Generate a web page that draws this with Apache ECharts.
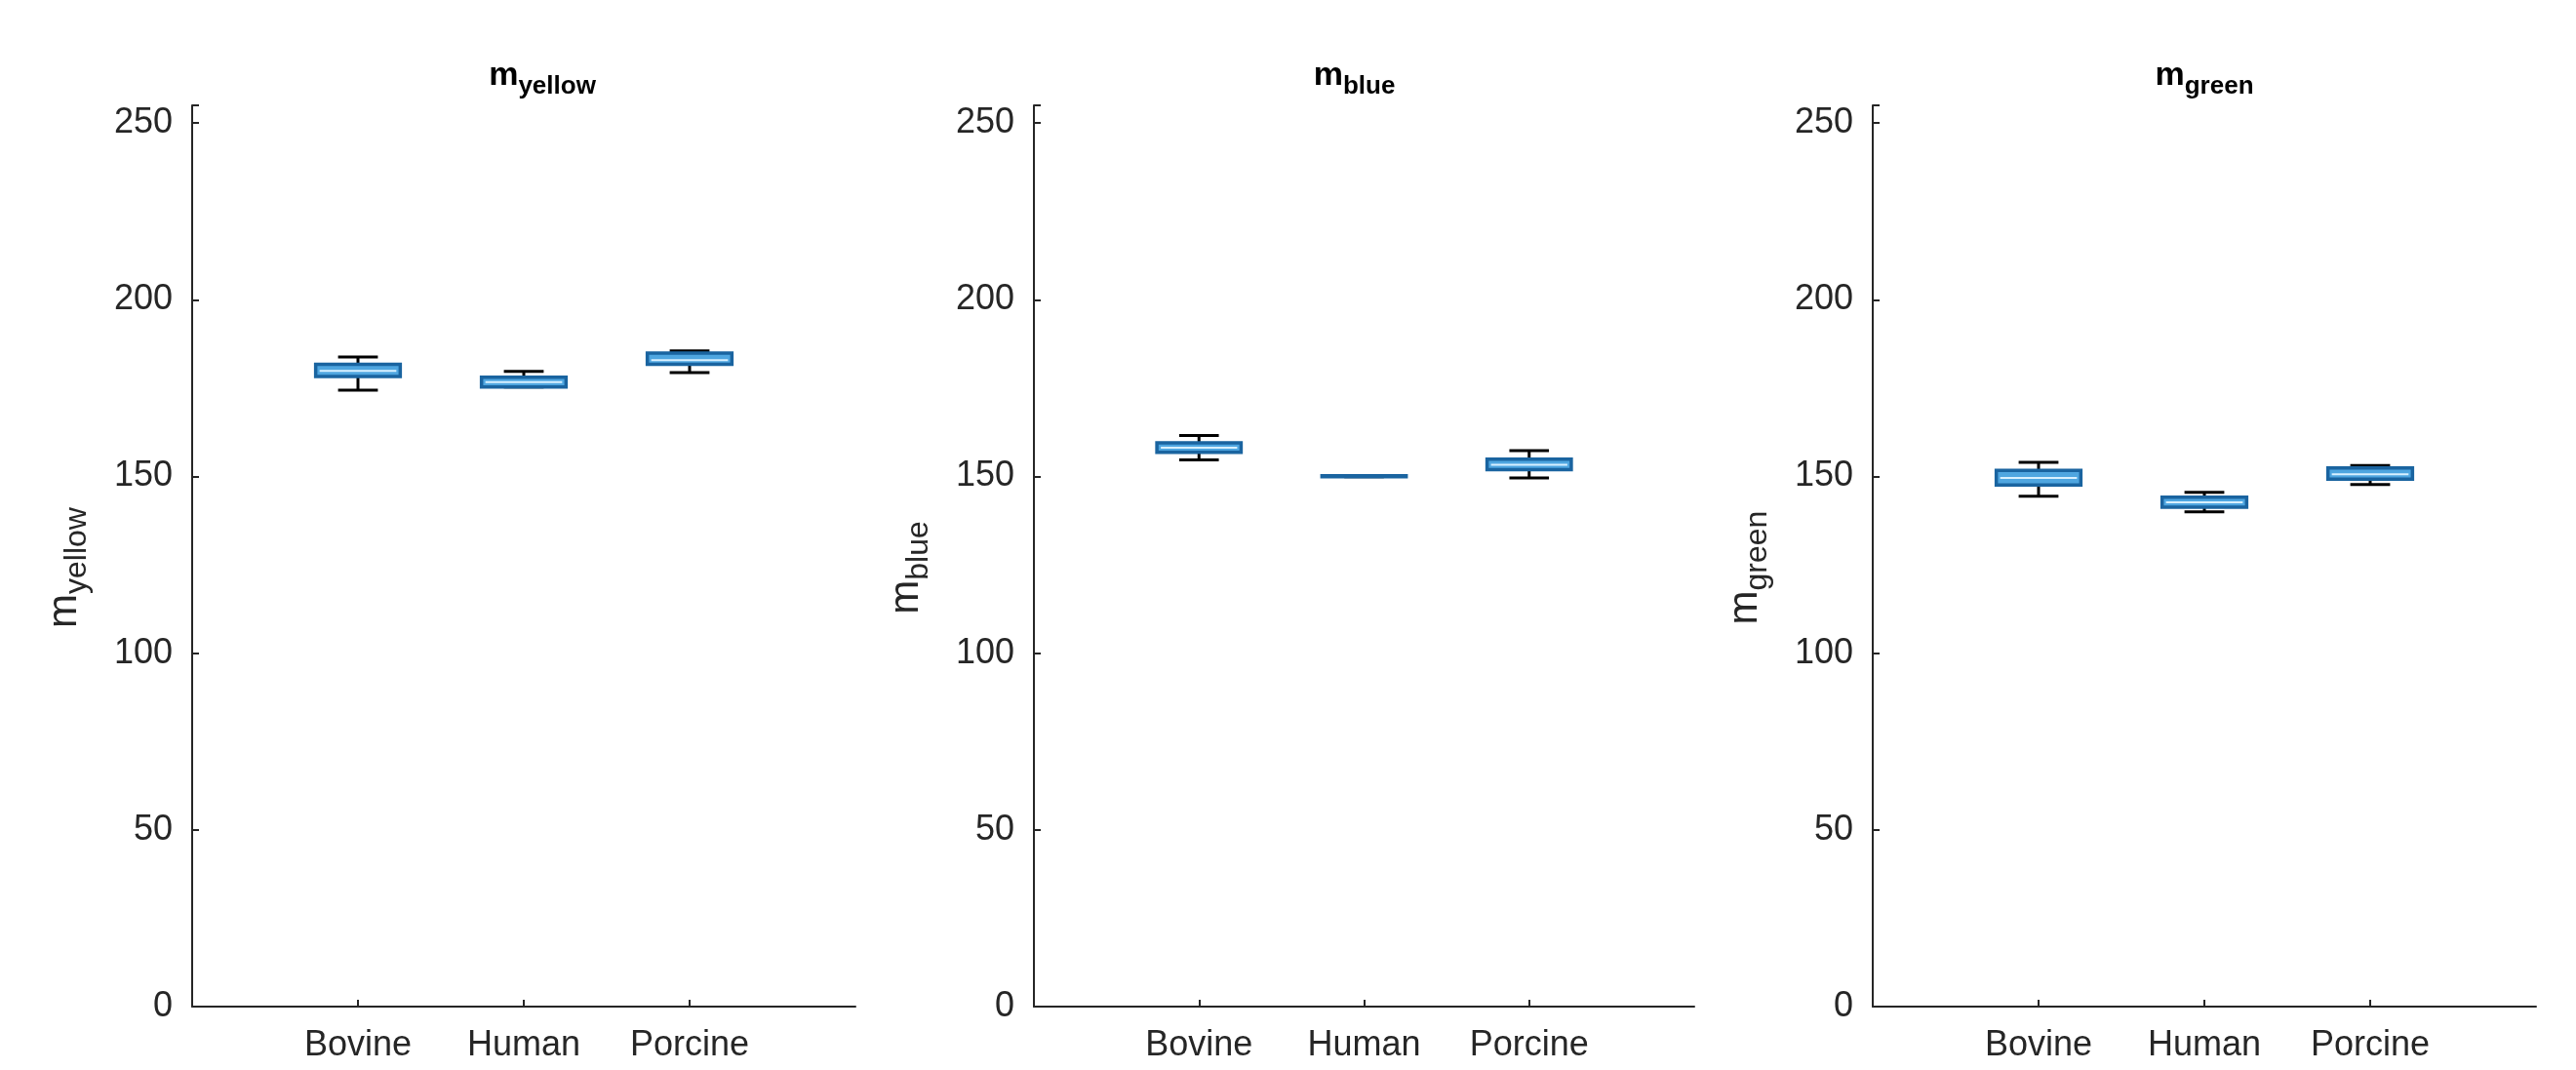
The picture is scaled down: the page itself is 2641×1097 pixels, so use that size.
<!DOCTYPE html>
<html>
<head>
<meta charset="utf-8">
<script src="https://cdn.jsdelivr.net/npm/echarts@6/dist/echarts.min.js"></script>
<style>
html,body{margin:0;padding:0;background:#fff;}
#c{width:2641px;height:1097px;}
</style>
</head>
<body>
<div id="c"></div>
<script>
// Categories (padded with blank slots so that groups sit at 1,2,3 on a 0..4 axis)
var categories = ['', 'Bovine', 'Human', 'Porcine', ''];
var panelTitles = ['yellow', 'blue', 'green'];
var yTicks = [0, 50, 100, 150, 200, 250];

// Box statistics per group: [min, q1, median, q3, max]
var yellowStats = [
  [174.4, 178.3, 179.9, 181.7, 183.8],
  [175.3, 175.3, 176.7, 178.1, 179.7],
  [179.4, 181.7, 182.9, 184.9, 185.5]
];
var blueStats = [
  [154.7, 156.8, 158.1, 159.5, 161.6],
  [149.9, 150.0, 150.1, 150.2, 150.3],
  [149.6, 151.9, 153.3, 154.9, 157.3]
];
var greenStats = [
  [144.4, 147.6, 149.6, 151.7, 154.0],
  [140.0, 141.3, 142.7, 144.1, 145.5],
  [147.7, 149.2, 150.6, 152.4, 153.1]
];
var allStats = [yellowStats, blueStats, greenStats];

var chart = echarts.init(document.getElementById('c'), null, {renderer: 'canvas'});
var FONT = 'Liberation Sans, Arial, Helvetica, sans-serif';
var AX = '#262626';
var panels = [
  {left: 197, width: 680, titleShift: 14},
  {left: 1060, width: 677, titleShift: -15},
  {left: 1920, width: 680, titleShift: -5}
];

function renderBox(params, api) {
  var x = api.value(0);
  var lo = api.value(1), q1 = api.value(2), med = api.value(3), q3 = api.value(4), hi = api.value(5);
  var unit = api.size([1, 0])[0];
  var halfBox = unit * 0.255;
  var halfCap = unit * 0.12;
  var pLo = api.coord([x, lo]), pQ1 = api.coord([x, q1]), pMed = api.coord([x, med]);
  var pQ3 = api.coord([x, q3]), pHi = api.coord([x, hi]);
  var cx = pLo[0];
  var black = {stroke: '#000', lineWidth: 3};
  var children = [
    {type: 'line', shape: {x1: cx, y1: pHi[1], x2: cx, y2: pQ3[1]}, style: black},
    {type: 'line', shape: {x1: cx, y1: pQ1[1], x2: cx, y2: pLo[1]}, style: black},
    {type: 'line', shape: {x1: cx - halfCap, y1: pHi[1], x2: cx + halfCap, y2: pHi[1]}, style: black},
    {type: 'line', shape: {x1: cx - halfCap, y1: pLo[1], x2: cx + halfCap, y2: pLo[1]}, style: black},
    {type: 'rect', shape: {x: cx - halfBox, y: pQ3[1], width: halfBox * 2, height: Math.max(pQ1[1] - pQ3[1], 1)},
      style: {fill: '#4fa6e0', stroke: '#1a64a0', lineWidth: 3.5}},
    {type: 'line', shape: {x1: cx - halfBox + 4, y1: pMed[1], x2: cx + halfBox - 4, y2: pMed[1]},
      style: {stroke: '#d8f0ff', lineWidth: 2, opacity: (pQ1[1] - pQ3[1]) > 8 ? 1 : 0}}
  ];
  return {type: 'group', children: children};
}

var grids = [], xAxes = [], yAxes = [], series = [], titles = [];
panels.forEach(function (p, i) {
  grids.push({left: p.left, width: p.width, top: 108, bottom: 65, containLabel: false});
  xAxes.push({
    type: 'category', gridIndex: i, data: categories, boundaryGap: false,
    axisLine: {lineStyle: {color: AX, width: 2}},
    axisTick: {inside: true, length: 7, lineStyle: {color: AX, width: 2},
      interval: function (idx, val) { return val !== ''; }},
    axisLabel: {interval: 0, color: AX, fontSize: 36, fontFamily: FONT, margin: 22},
    splitLine: {show: false}
  });
  yAxes.push({
    type: 'value', gridIndex: i, min: 0, max: 255, interval: 50,
    axisLine: {show: true, lineStyle: {color: AX, width: 2}},
    axisTick: {show: true, inside: true, length: 7, lineStyle: {color: AX, width: 2}},
    axisLabel: {color: AX, fontSize: 36, fontFamily: FONT, margin: 20,
      formatter: function (v) { return yTicks.indexOf(v) >= 0 ? String(v) : ''; }},
    splitLine: {show: false},
    name: '{m|m}{s|' + panelTitles[i] + '}',
    nameLocation: 'middle', nameGap: 102, nameRotate: 90,
    nameTextStyle: {
      color: AX, fontFamily: FONT, padding: [0, 24, 0, 0],
      rich: {
        m: {fontSize: 42, fontFamily: FONT, color: AX, lineHeight: 42, verticalAlign: 'top'},
        s: {fontSize: 32, fontFamily: FONT, color: AX, lineHeight: 50, verticalAlign: 'bottom'}
      }
    }
  });
  series.push({
    type: 'custom', xAxisIndex: i, yAxisIndex: i,
    renderItem: renderBox,
    encode: {x: 0, y: [1, 2, 3, 4, 5]},
    data: allStats[i].map(function (s, k) { return [k + 1].concat(s); })
  });
  titles.push({
    text: '{m|m}{s|' + panelTitles[i] + '}',
    left: p.left + p.width / 2 + p.titleShift, top: 56, textAlign: 'center',
    textStyle: {
      rich: {
        m: {fontSize: 34, fontWeight: 'bold', fontFamily: FONT, color: '#000', lineHeight: 34, verticalAlign: 'top'},
        s: {fontSize: 26, fontWeight: 'bold', fontFamily: FONT, color: '#000', lineHeight: 41, verticalAlign: 'bottom'}
      }
    }
  });
});

chart.setOption({
  backgroundColor: '#fff',
  animation: false,
  title: titles,
  grid: grids,
  xAxis: xAxes,
  yAxis: yAxes,
  series: series
});
</script>
</body>
</html>
